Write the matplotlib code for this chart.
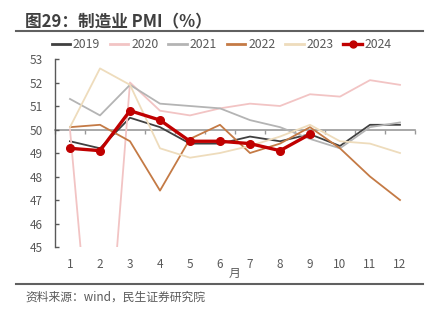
import matplotlib
matplotlib.use("Agg")
import matplotlib.pyplot as plt
from matplotlib.lines import Line2D

plt.rcParams['font.family'] = ['Noto Sans CJK SC', 'DejaVu Sans']

months = [1, 2, 3, 4, 5, 6, 7, 8, 9, 10, 11, 12]
month_labels = [str(m) for m in months]
y2019 = [49.5, 49.2, 50.5, 50.1, 49.4, 49.4, 49.7, 49.5, 49.8, 49.3, 50.2, 50.2]
y2020 = [50.0, 35.7, 52.0, 50.8, 50.6, 50.9, 51.1, 51.0, 51.5, 51.4, 52.1, 51.9]
y2021 = [51.3, 50.6, 51.9, 51.1, 51.0, 50.9, 50.4, 50.1, 49.6, 49.2, 50.1, 50.3]
y2022 = [50.1, 50.2, 49.5, 47.4, 49.6, 50.2, 49.0, 49.4, 50.1, 49.2, 48.0, 47.0]
y2023 = [50.1, 52.6, 51.9, 49.2, 48.8, 49.0, 49.3, 49.7, 50.2, 49.5, 49.4, 49.0]
y2024 = [49.2, 49.1, 50.8, 50.4, 49.5, 49.5, 49.4, 49.1, 49.8]
yticks = [45, 46, 47, 48, 49, 50, 51, 52, 53]

txt = '#595959'
fig = plt.figure(figsize=(4.41, 3.30), dpi=100)
ax = fig.add_axes([0.1247, 0.2515, 0.8163, 0.5697])

series = [
    ('2019', y2019, '#404040', 1.3),
    ('2020', y2020, '#F2C4C4', 1.3),
    ('2021', y2021, '#B4B4B4', 1.3),
    ('2022', y2022, '#C47A45', 1.3),
    ('2023', y2023, '#EEDCBC', 1.3),
]
handles = []
for name, vals, col, lw in series:
    ax.plot(months[:len(vals)], vals, color=col, lw=lw, zorder=2)
    handles.append(Line2D([], [], color=col, lw=2.0, label=name))
ax.plot(months[:len(y2024)], y2024, color='#C00000', lw=2.4, marker='o',
        markersize=5.5, zorder=3)
handles.append(Line2D([], [], color='#C00000', lw=2.4, marker='o',
                      markersize=5, label='2024'))

ax.set_xlim(0.5, 12.5)
ax.set_ylim(45, 53)
ax.set_yticks(yticks)
ax.tick_params(axis='y', direction='in', length=3, color='#595959',
               labelcolor=txt, labelsize=8.5, pad=9, width=1)
for s in ['top', 'right']:
    ax.spines[s].set_visible(False)
ax.spines['left'].set_color('#595959')
ax.spines['left'].set_linewidth(1)
ax.spines['bottom'].set_position(('data', 50))
ax.spines['bottom'].set_color('#999999')
ax.spines['bottom'].set_linewidth(1.2)
ax.spines['bottom'].set_zorder(1)
ax.set_xticks([m - 0.5 for m in months] + [12.5])
ax.tick_params(axis='x', direction='out', length=3, color='#999999',
               labelbottom=False, width=1)

sec = ax.secondary_xaxis('bottom')
sec.set_xticks(months, month_labels)
sec.tick_params(length=0, pad=8, labelsize=8.5, labelcolor=txt)
sec.spines['bottom'].set_visible(False)
sec.set_xlabel('月', fontsize=8.5, color=txt, labelpad=-3)

fig.legend(handles=handles, loc='center', bbox_to_anchor=(0.503, 0.864),
           ncol=6, frameon=False, fontsize=8.8, labelcolor=txt,
           handlelength=1.5, handletextpad=0.25, columnspacing=0.8)

fig.text(0.057, 0.933, '图29：制造业 PMI（%）', fontsize=12, fontweight='bold',
         color='#404040', va='center', ha='left')
fig.add_artist(Line2D([0.036, 0.96], [0.906, 0.906], color='#606060', lw=1.5,
                      transform=fig.transFigure))
fig.add_artist(Line2D([0.036, 0.96], [0.139, 0.139], color='#606060', lw=1.5,
                      transform=fig.transFigure))
fig.text(0.057, 0.1, '资料来源：wind，民生证券研究院', fontsize=8.5,
         color=txt, va='center', ha='left')

fig.savefig('out.png', dpi=100)
